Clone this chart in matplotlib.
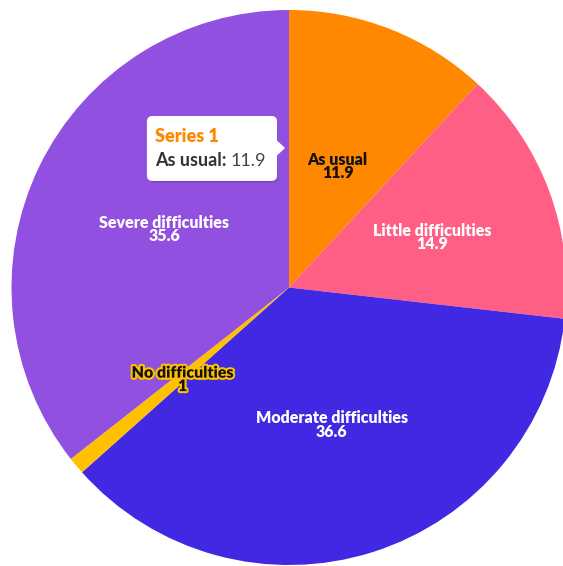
import numpy as np
import matplotlib.pyplot as plt
import matplotlib.patheffects as pe
from matplotlib.patches import FancyBboxPatch, Polygon

plt.rcParams['font.family'] = ['Lato', 'DejaVu Sans']

# data, clockwise from 12 o'clock
labels = ['As usual', 'Little difficulties', 'Moderate difficulties',
          'No difficulties', 'Severe difficulties']
values = [11.9, 14.9, 36.6, 1, 35.6]
colors = ['#FF8800', '#FF5F85', '#4128E3', '#FFC000', '#9150DF']
text_colors = ['#111111', 'white', 'white', '#111111', 'white']
label_r = [0.48, 0.55, 0.51, 0.50, 0.50]

fig = plt.figure(figsize=(5.63, 5.66), dpi=100)
ax = fig.add_axes([0, 0, 1, 1])

wedges, _ = ax.pie(values, colors=colors, startangle=90, counterclock=False,
                   radius=1.0, wedgeprops=dict(linewidth=0))

# slice labels
for w, lab, v, tc, r in zip(wedges, labels, values, text_colors, label_r):
    mid = np.deg2rad((w.theta1 + w.theta2) / 2)
    x, y = r * np.cos(mid), r * np.sin(mid)
    t = ax.text(x, y - 0.01, f'{lab}\n{v:g}', ha='center', va='center', color=tc,
                fontsize=11.5, fontweight='heavy', linespacing=0.8)
    if lab == 'No difficulties':
        t.set_path_effects([pe.withStroke(linewidth=3, foreground='#FFC000')])

# tooltip
shadow = FancyBboxPatch((-0.505, 0.378), 0.465, 0.228,
                        boxstyle='round,pad=0,rounding_size=0.02',
                        fc='black', ec='none', alpha=0.12, zorder=4)
ax.add_patch(shadow)
box = FancyBboxPatch((-0.512, 0.384), 0.469, 0.234,
                     boxstyle='round,pad=0,rounding_size=0.02',
                     fc='white', ec='none', zorder=5)
ax.add_patch(box)
ax.add_patch(Polygon([[-0.045, 0.531], [-0.014, 0.503], [-0.045, 0.474]],
                     closed=True, fc='white', ec='none', zorder=5))
ax.text(-0.483, 0.545, 'Series 1', color='#FF8800', fontsize=13,
        fontweight='heavy', va='center', ha='left', zorder=6)
t1 = ax.text(-0.483, 0.456, 'As usual: ', color='#333333', fontsize=13,
             fontweight='bold', va='center', ha='left', zorder=6)
ax.annotate('11.9', xycoords=t1, xy=(1, 0.5), va='center', ha='left',
            color='#444444', fontsize=13, zorder=6)

ax.set_xlim(-289 / 277.5, (563 - 289) / 277.5)
ax.set_ylim((287.5 - 566) / 277.5, 287.5 / 277.5)
ax.set_aspect('auto')
ax.axis('off')

fig.savefig('out.png', dpi=100)
